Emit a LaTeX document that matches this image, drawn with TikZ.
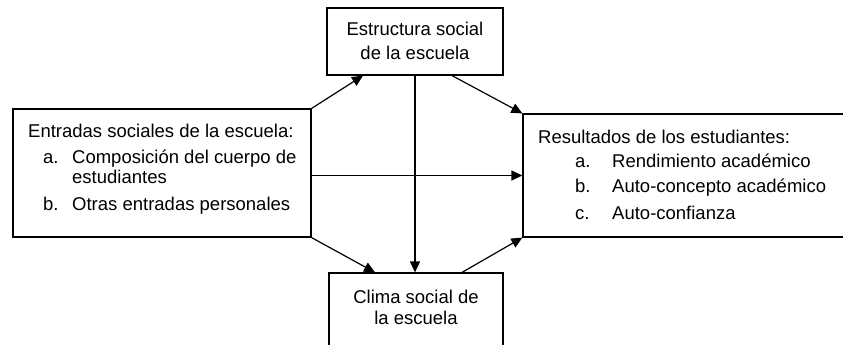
\documentclass[tikz,border=0pt]{standalone}
\usepackage{fontspec}
\setmainfont{Liberation Sans}
\usetikzlibrary{positioning}
\usetikzlibrary{arrows.meta}

\tikzset{
  caja/.style={draw, line width=1.2pt, inner sep=0pt},
  texto/.style={inner sep=0pt, font=\fontsize{18.5}{21}\selectfont},
  flecha/.style={line width=1.2pt, -{Triangle[length=11pt,width=10pt]}},
}

\begin{document}
\begin{tikzpicture}[x=1pt,y=-1pt]
\useasboundingbox (0,0) rectangle (843,345);

% cajas
\node[caja, minimum width=176pt, minimum height=67pt] (estructura) at (415,41.5) {};
\node[caja, minimum width=298pt, minimum height=128pt] (entradas) at (162,173) {};
\node[caja, minimum width=340pt, minimum height=123pt] (resultados) at (693,175.5) {};
\node[caja, minimum width=174pt, minimum height=90pt] (clima) at (416,318) {};

% textos
\node[texto, anchor=base] (estructura-txt) at (415,36) {\begin{tabular}[t]{@{}c@{}}Estructura social\\[2.5pt] de la escuela\end{tabular}};
\node[texto, anchor=base] (clima-txt) at (416,303.5) {\begin{tabular}[t]{@{}c@{}}Clima social de\\ la escuela\end{tabular}};

\node[texto, anchor=base west] (entradas-txt) at (28,137) {\begin{tabular}[t]{@{\hspace{15pt}}p{29pt}@{}l@{}}
\multicolumn{2}{@{}l@{}}{Entradas sociales de la escuela:}\\[5pt]
a. & Composición del cuerpo de\\[-1pt]
   & estudiantes\\[6pt]
b. & Otras entradas personales
\end{tabular}};

\node[texto, anchor=base west] (resultados-txt) at (538,143) {\begin{tabular}[t]{@{\hspace{37pt}}p{37pt}@{}l@{}}
\multicolumn{2}{@{}l@{}}{Resultados de los estudiantes:}\\[3pt]
a. & Rendimiento académico\\[4pt]
b. & Auto-concepto académico\\[6pt]
c. & Auto-confianza
\end{tabular}};

% flechas
\draw[flecha] (entradas.north east) -- ([xshift=-52pt]estructura.south);
\draw[flecha] ([xshift=37pt]estructura.south) -- (resultados.north west);
\draw[flecha] (estructura.south) -- (estructura.south |- clima.north);
\draw[flecha] (entradas.east |- resultados.west) -- (resultados.west);
\draw[flecha] (entradas.south east) -- ([xshift=-41pt]clima.north);
\draw[flecha] ([xshift=46pt]clima.north) -- (resultados.south west);

\end{tikzpicture}
\end{document}
